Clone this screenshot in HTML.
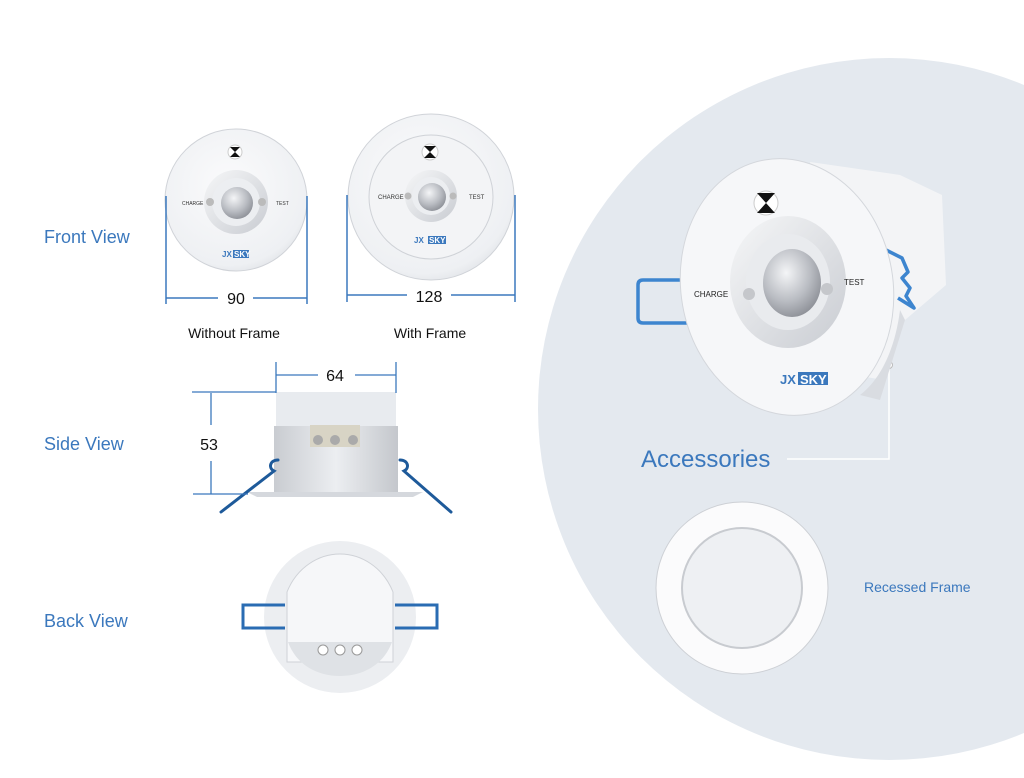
<!DOCTYPE html>
<html><head><meta charset="utf-8"><style>
html,body{margin:0;padding:0;background:#fff;width:1024px;height:778px;overflow:hidden}
svg{display:block}
text{font-family:"Liberation Sans",sans-serif}
</style></head><body>
<svg width="1024" height="778" viewBox="0 0 1024 778">
<defs>
<radialGradient id="disc" cx="0.45" cy="0.4" r="0.7"><stop offset="0" stop-color="#fbfbfc"/><stop offset="0.8" stop-color="#eef0f3"/><stop offset="1" stop-color="#d7dadf"/></radialGradient>
<radialGradient id="ball" cx="0.4" cy="0.35" r="0.7"><stop offset="0" stop-color="#f4f5f7"/><stop offset="0.6" stop-color="#b9bcc2"/><stop offset="1" stop-color="#8b8e95"/></radialGradient>
<linearGradient id="cyl" x1="0" x2="1"><stop offset="0" stop-color="#c9ccd1"/><stop offset="0.5" stop-color="#eceef1"/><stop offset="1" stop-color="#c4c7cc"/></linearGradient>
<linearGradient id="ring" x1="0" y1="0" x2="1" y2="1"><stop offset="0" stop-color="#f6f7f8"/><stop offset="1" stop-color="#c9ccd2"/></linearGradient>
</defs>
<circle cx="889" cy="409" r="351" fill="#e4e9ef"/>

<g fill="#3b78bd" font-size="18">
<text x="44" y="243">Front View</text>
<text x="44" y="450">Side View</text>
<text x="44" y="627">Back View</text>
</g>
<text x="641" y="467" fill="#3b78bd" font-size="24">Accessories</text>
<text x="864" y="592" fill="#3b78bd" font-size="14">Recessed Frame</text>
<polyline points="787,459 889,459 889,367" fill="none" stroke="#fff" stroke-width="1.5"/>
<circle cx="889" cy="365" r="3.5" fill="#fff" stroke="#bbb"/>

<!-- front view without frame -->
<circle cx="236" cy="200" r="71" fill="url(#disc)" stroke="#d0d3d8"/>
<circle cx="236" cy="202" r="32" fill="url(#ring)"/>
<circle cx="236" cy="202" r="24" fill="#eceef1"/>
<circle cx="237" cy="203" r="16" fill="url(#ball)"/>
<circle cx="210" cy="202" r="4" fill="#bbb"/><circle cx="262" cy="202" r="4" fill="#bbb"/>
<circle cx="235" cy="152" r="7" fill="#fff" stroke="#ccc"/><path d="M230,147h10l-5,5zM230,157h10l-5,-5z" fill="#111"/>
<text x="182" y="205" font-size="5" fill="#333">CHARGE</text><text x="276" y="205" font-size="5" fill="#333">TEST</text>
<text x="222" y="257" font-size="8" fill="#3b78bd" font-weight="bold">JX</text>
<rect x="233" y="250" width="16" height="8" fill="#3b78bd"/><text x="234" y="257" font-size="8" fill="#fff" font-weight="bold">SKY</text>
<g stroke="#3b78bd" stroke-width="1.5"><line x1="166" y1="196" x2="166" y2="304"/><line x1="307" y1="196" x2="307" y2="304"/>
<line x1="166" y1="298" x2="218" y2="298"/><line x1="253" y1="298" x2="307" y2="298"/></g>
<text x="236" y="304" font-size="16" text-anchor="middle" fill="#111">90</text>
<text x="234" y="338" font-size="14" text-anchor="middle" fill="#111">Without Frame</text>

<!-- with frame -->
<circle cx="431" cy="197" r="83" fill="url(#disc)" stroke="#d0d3d8"/>
<circle cx="431" cy="197" r="62" fill="#f3f4f6" stroke="#cfd2d7"/>
<circle cx="431" cy="196" r="26" fill="url(#ring)"/>
<circle cx="431" cy="196" r="19" fill="#eceef1"/>
<circle cx="432" cy="197" r="14" fill="url(#ball)"/>
<circle cx="408" cy="196" r="3.5" fill="#bbb"/><circle cx="453" cy="196" r="3.5" fill="#bbb"/>
<circle cx="430" cy="152" r="8" fill="#fff" stroke="#ccc"/><path d="M424,146h12l-6,6zM424,158h12l-6,-6z" fill="#111"/>
<text x="378" y="199" font-size="6" fill="#333">CHARGE</text><text x="469" y="199" font-size="6" fill="#333">TEST</text>
<text x="414" y="243" font-size="8" fill="#3b78bd" font-weight="bold">JX</text>
<rect x="428" y="236" width="18" height="8" fill="#3b78bd"/><text x="429" y="243" font-size="8" fill="#fff" font-weight="bold">SKY</text>
<g stroke="#3b78bd" stroke-width="1.5"><line x1="347" y1="195" x2="347" y2="302"/><line x1="515" y1="195" x2="515" y2="302"/>
<line x1="347" y1="295" x2="407" y2="295"/><line x1="451" y1="295" x2="515" y2="295"/></g>
<text x="429" y="302" font-size="16" text-anchor="middle" fill="#111">128</text>
<text x="430" y="338" font-size="14" text-anchor="middle" fill="#111">With Frame</text>

<!-- side view -->
<rect x="276" y="392" width="120" height="34" fill="#e8ebef"/>
<path d="M274,426h124v67h-124z" fill="url(#cyl)"/>
<rect x="310" y="425" width="50" height="22" fill="#d8d4c5"/>
<circle cx="318" cy="440" r="5" fill="#aaa"/><circle cx="335" cy="440" r="5" fill="#aaa"/><circle cx="353" cy="440" r="5" fill="#aaa"/>
<path d="M247,492h176l-10,5h-156z" fill="#d5d8dd"/>
<g stroke="#1e5a9a" stroke-width="3" fill="none" stroke-linecap="round"><path d="M278,460c-8,0-10,8-4,11L221,512"/><path d="M400,460c8,0,10,8,4,11L451,512"/></g>
<g stroke="#3b78bd" stroke-width="1.3"><line x1="276" y1="362" x2="276" y2="393"/><line x1="396" y1="362" x2="396" y2="393"/>
<line x1="276" y1="375" x2="318" y2="375"/><line x1="355" y1="375" x2="396" y2="375"/>
<line x1="192" y1="392" x2="276" y2="392"/><line x1="193" y1="494" x2="248" y2="494"/>
<line x1="211" y1="393" x2="211" y2="425"/><line x1="211" y1="461" x2="211" y2="494"/></g>
<text x="335" y="381" font-size="16" text-anchor="middle" fill="#111">64</text>
<text x="209" y="450" font-size="16" text-anchor="middle" fill="#111">53</text>

<!-- back view -->
<circle cx="340" cy="617" r="76" fill="#eceef1"/>
<path d="M287,592c10-25,32-38,53-38s43,13,53,38v70h-106z" fill="#f6f7f9" stroke="#cfd2d7"/>
<path d="M288,642h104c-8,22-28,34-52,34s-44-12-52-34z" fill="#dfe2e6"/>
<circle cx="323" cy="650" r="5" fill="#fff" stroke="#999"/><circle cx="340" cy="650" r="5" fill="#fff" stroke="#999"/><circle cx="357" cy="650" r="5" fill="#fff" stroke="#999"/>
<g stroke="#2a6cb3" stroke-width="3" fill="none"><path d="M285,605h-42v23h42"/><path d="M395,605h42v23h-42"/></g>

<!-- main product -->
<path d="M810,162L900,175L942,195L946,285L905,320L885,380L820,370z" fill="#f3f4f6"/>
<path d="M900,310C895,350 880,380 860,395L880,400L905,320z" fill="#d9dce1"/>
<g stroke="#3d85cf" stroke-width="3.5" fill="none" stroke-linejoin="round"><path d="M692,280H643Q638,280 638,285V318Q638,323 643,323H692"/><path d="M886,250l16,8l6,14l-6,6l8,10l-4,8l8,12l-16,-10"/></g>
<ellipse cx="787" cy="287" rx="106" ry="129" transform="rotate(-10 787 287)" fill="#f6f7f9" stroke="#d4d7dc"/>
<ellipse cx="788" cy="282" rx="58" ry="66" fill="url(#ring)"/>
<ellipse cx="788" cy="282" rx="42" ry="48" fill="#e9ebee"/>
<ellipse cx="792" cy="283" rx="29" ry="34" fill="url(#ball)"/>
<circle cx="749" cy="294" r="6" fill="#c5c7cb"/><circle cx="827" cy="289" r="6" fill="#c5c7cb"/>
<circle cx="766" cy="203" r="12" fill="#fff" stroke="#ccc"/><path d="M757,193h18l-9,10zM757,213h18l-9,-10z" fill="#111"/>
<text x="694" y="297" font-size="8" fill="#222">CHARGE</text><text x="844" y="285" font-size="8" fill="#222">TEST</text>
<text x="780" y="384" font-size="13" fill="#3b78bd" font-weight="bold">JX</text>
<rect x="798" y="372" width="30" height="13" fill="#3b78bd"/><text x="800" y="384" font-size="13" fill="#fff" font-weight="bold">SKY</text>

<!-- recessed frame -->
<circle cx="742" cy="588" r="86" fill="#fbfbfc" stroke="#cdd0d5"/>
<circle cx="742" cy="588" r="60" fill="#eef0f3" stroke="#c8cbd0" stroke-width="2"/>
</svg>
</body></html>
